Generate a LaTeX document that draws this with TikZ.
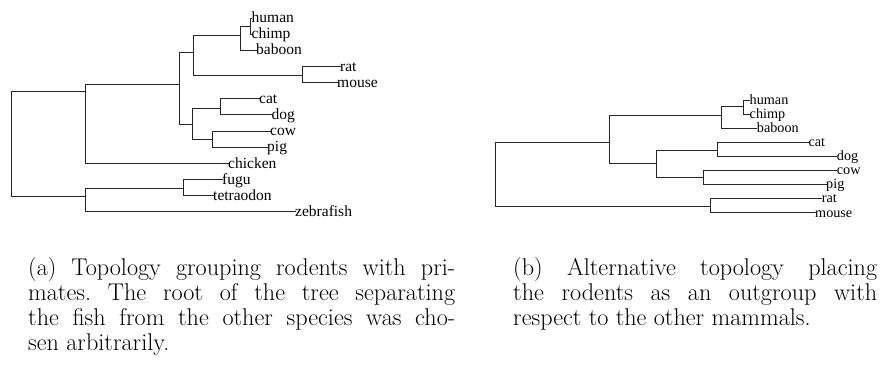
\documentclass[tikz,border=0pt]{standalone}
\usepackage{fontspec}
\newfontfamily\treefont{Liberation Serif}
% a justified caption line of fixed width
\newcommand{\capline}[2]{\makebox[#1][s]{#2}}
\begin{document}
\frenchspacing
\begin{tikzpicture}[x=1pt,y=-1pt,
  branch/.style={line width=1pt, draw=black!85, line cap=rect},
  tipa/.style={anchor=base west, inner sep=0pt, font=\treefont\fontsize{15.5}{15.5}\selectfont, yshift=-4.6pt},
  tipb/.style={anchor=base west, inner sep=0pt, font=\treefont\fontsize{14.2}{14.2}\selectfont, yshift=-4.2pt},
  subcap/.style={anchor=north west, inner sep=0pt, align=left, font=\fontsize{24.2}{25}\selectfont}]
\useasboundingbox (0,0) rectangle (880,367);

% ---------- tree (a): rodents grouped with primates ----------
\coordinate (a-root) at (11,143);
\coordinate (a-A) at (85,91.7);
\coordinate (a-B) at (85,196);
\coordinate (a-M) at (179,84);
\coordinate (a-PR) at (193,52);
\coordinate (a-P) at (240,35);
\coordinate (a-HC) at (250,26.7);
\coordinate (a-R) at (302,75);
\coordinate (a-CA) at (192,124);
\coordinate (a-C) at (220,108);
\coordinate (a-Ar) at (212,139);
\coordinate (a-F) at (183.3,188.3);
% tips
\coordinate (a-human) at (251.5,18);
\coordinate (a-chimp) at (251.5,34.2);
\coordinate (a-baboon) at (256,50.3);
\coordinate (a-rat) at (340,66.5);
\coordinate (a-mouse) at (337,82.6);
\coordinate (a-cat) at (259,98.8);
\coordinate (a-dog) at (271.5,114.9);
\coordinate (a-cow) at (270,131.1);
\coordinate (a-pig) at (267,147.2);
\coordinate (a-chicken) at (228,163.4);
\coordinate (a-fugu) at (222,179.5);
\coordinate (a-tetraodon) at (213,195.7);
\coordinate (a-zebrafish) at (295,211.8);

\foreach \p/\c in {root/A, root/B, A/M, A/chicken, M/PR, M/CA, PR/P, PR/R,
    P/HC, P/baboon, HC/human, HC/chimp, R/rat, R/mouse, CA/C, CA/Ar,
    C/cat, C/dog, Ar/cow, Ar/pig, B/F, B/zebrafish, F/fugu, F/tetraodon}
  \draw[branch] (a-\p) |- (a-\c);

\foreach \t in {human, chimp, baboon, rat, mouse, cat, dog, cow, pig,
    chicken, fugu, tetraodon, zebrafish}
  \node[tipa] (la-\t) at (a-\t) {\t};

% ---------- tree (b): rodents as outgroup ----------
\coordinate (b-root) at (495.7,170);
\coordinate (b-U) at (609,142.3);
\coordinate (b-R) at (710.5,206.3);
\coordinate (b-P) at (721,115);
\coordinate (b-HC) at (743.3,106.7);
\coordinate (b-L) at (656,163.3);
\coordinate (b-C) at (717,150);
\coordinate (b-Ar) at (703,177.5);
% tips
\coordinate (b-human) at (749.5,100);
\coordinate (b-chimp) at (749.5,114.1);
\coordinate (b-baboon) at (756.7,128.2);
\coordinate (b-cat) at (808.3,142.3);
\coordinate (b-dog) at (836.7,156.4);
\coordinate (b-cow) at (836.7,170.5);
\coordinate (b-pig) at (826,184.6);
\coordinate (b-rat) at (821.7,198.7);
\coordinate (b-mouse) at (815,212.8);

\foreach \p/\c in {root/U, root/R, U/P, U/L, P/HC, P/baboon, HC/human, HC/chimp,
    L/C, L/Ar, C/cat, C/dog, Ar/cow, Ar/pig, R/rat, R/mouse}
  \draw[branch] (b-\p) |- (b-\c);

\foreach \t in {human, chimp, baboon, cat, dog, cow, pig, rat, mouse}
  \node[tipb] (lb-\t) at (b-\t) {\t};

% ---------- sub-captions ----------
\node[subcap] (capa) at (28,256.9)
  {\capline{427pt}{(a) Topology grouping rodents with pri-}\\
   \capline{427pt}{mates. The root of the tree separating}\\
   \capline{427pt}{the fish from the other species was cho-}\\
   sen arbitrarily.};
\node[subcap] (capb) at (513,256.9)
  {\capline{364pt}{(b) Alternative topology placing}\\
   \capline{364pt}{the rodents as an outgroup with}\\
   respect to the other mammals.};
\end{tikzpicture}
\end{document}
